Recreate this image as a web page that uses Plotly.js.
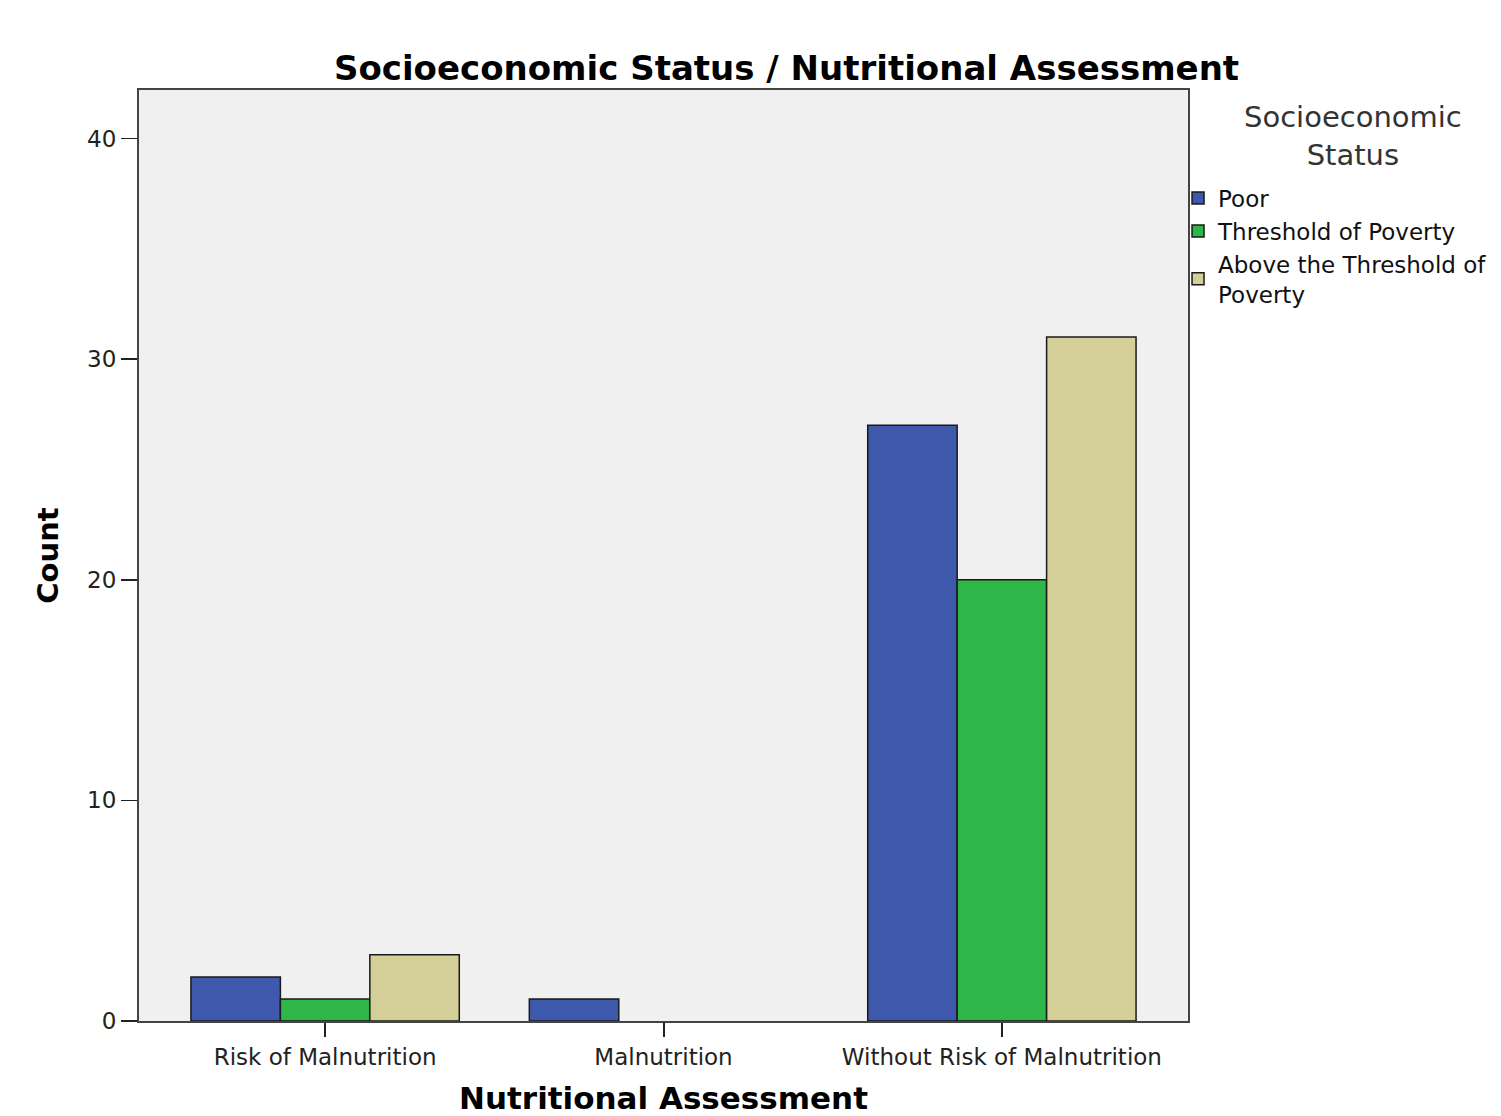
<!DOCTYPE html>
<html><head><meta charset="utf-8">
<script src="https://cdn.plot.ly/plotly-3.0.1.min.js"></script>
<style>body{margin:0;background:#fff}#c{width:1501px;height:1116px}</style>
</head><body><div id="c"></div>
<script>
const categories = ["Risk of Malnutrition", "Malnutrition", "Without Risk of Malnutrition"];
const seriesNames = ["Poor", "Threshold of Poverty", "Above the Threshold of<br>Poverty"];
const legendTitle = "Socioeconomic<br>Status";
const poor = [2, 1, 27];
const threshold = [1, 0, 20];
const above = [3, 0, 31];
const yTicks = [0, 10, 20, 30, 40];

const colors = ["#3e58ab", "#2fb648", "#d4cf98"];
const values = [poor, threshold, above];
const traces = values.map((v, i) => ({
  type: "bar", x: categories, y: v, name: seriesNames[i],
  marker: {color: colors[i], line: {color: "#1a1a1a", width: v.map(d => d === 0 ? 0 : 1.5)}}
}));

const layout = {
  width: 1501, height: 1116,
  paper_bgcolor: "#ffffff", plot_bgcolor: "#f0f0f0",
  margin: {l: 139, r: 313, t: 90, b: 95, pad: 0, autoexpand: false},
  barmode: "group", bargap: 0.207, bargroupgap: 0,
  font: {family: "DejaVu Sans, sans-serif", color: "#111"},
  title: {text: "<b>Socioeconomic Status / Nutritional Assessment</b>", font: {size: 34, color: "#000"},
          x: 0.524, xanchor: "center", y: 0.939, yanchor: "middle"},
  xaxis: {range: [-0.55, 2.55], showline: true, linecolor: "#444", linewidth: 2, mirror: true,
          ticks: "outside", ticklen: 14, tickwidth: 2, tickcolor: "#222",
          tickfont: {size: 23, color: "#222"}, showgrid: false, zeroline: false,
          title: {text: "<b>Nutritional Assessment</b>", font: {size: 31, color: "#000"}, standoff: 27}},
  yaxis: {range: [0, 42.2], tickvals: yTicks, showline: true, linecolor: "#444", linewidth: 2, mirror: true,
          ticks: "outside", ticklen: 16, tickwidth: 1.5, tickcolor: "#222",
          tickfont: {size: 23, color: "#222"}, showgrid: false, zeroline: false,
          title: {text: "<b>Count</b>", font: {size: 29, color: "#000"}, standoff: 20}},
  legend: {x: 0.9905, xanchor: "left", y: 0.907, yanchor: "top", bgcolor: "rgba(0,0,0,0)",
           font: {size: 23, color: "#111"}, tracegroupgap: 0, itemwidth: 30},
  annotations: [{text: legendTitle, xref: "paper", yref: "paper", x: 1.1573, y: 0.9506,
                 xanchor: "center", yanchor: "middle", showarrow: false, align: "center",
                 font: {size: 29, color: "#333"}}],
  showlegend: true
};
Plotly.newPlot("c", traces, layout, {displayModeBar: false, staticPlot: true});
</script></body></html>
